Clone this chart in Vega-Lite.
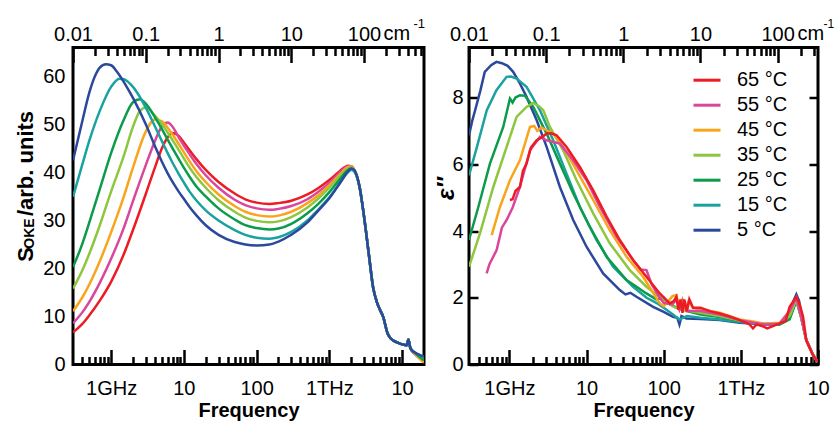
{
"$schema":"https://vega.github.io/schema/vega-lite/v6.json",
"background":"white",
"padding":{"left":12,"top":15.5,"right":0,"bottom":0},
"config":{
 "font":"Liberation Sans",
 "view":{"stroke":"#000","strokeWidth":3},
 "axis":{"domain":false,"grid":false,"labelFont":"Liberation Sans","labelFontSize":20,"labelColor":"#000","tickColor":"#000","tickWidth":2.5,"titleFont":"Liberation Sans","titleColor":"#000","titleFontWeight":"bold","labelOverlap":false,"labelFlush":false,"labelBound":false},
 "legend":{"labelFont":"Liberation Sans","labelColor":"#000"}
},
"datasets":{
"oke":[
{"s":"65 °C","f":0.3,"v":6.7},{"s":"65 °C","f":0.4,"v":8.4},{"s":"65 °C","f":0.5,"v":10.2},{"s":"65 °C","f":0.7,"v":13.3},{"s":"65 °C","f":1,"v":17.2},{"s":"65 °C","f":1.5,"v":23},{"s":"65 °C","f":2,"v":28},{"s":"65 °C","f":3,"v":35.5},{"s":"65 °C","f":4,"v":41},{"s":"65 °C","f":5,"v":45},{"s":"65 °C","f":6,"v":47.3},{"s":"65 °C","f":7,"v":48.2},{"s":"65 °C","f":8.5,"v":47.6},{"s":"65 °C","f":10,"v":46.2},{"s":"65 °C","f":12,"v":44.6},{"s":"65 °C","f":15,"v":42.7},{"s":"65 °C","f":20,"v":40.5},{"s":"65 °C","f":30,"v":38},{"s":"65 °C","f":50,"v":35.6},{"s":"65 °C","f":70,"v":34.4},{"s":"65 °C","f":100,"v":33.7},{"s":"65 °C","f":150,"v":33.4},{"s":"65 °C","f":200,"v":33.6},{"s":"65 °C","f":300,"v":34.1},{"s":"65 °C","f":500,"v":35.4},{"s":"65 °C","f":700,"v":36.7},{"s":"65 °C","f":1000,"v":38.4},{"s":"65 °C","f":1400,"v":40.3},{"s":"65 °C","f":1800,"v":41.4},{"s":"65 °C","f":2000,"v":41.3},{"s":"65 °C","f":2200,"v":40.5},{"s":"65 °C","f":2600,"v":37},{"s":"65 °C","f":3000,"v":30.8},{"s":"65 °C","f":3500,"v":22.8},{"s":"65 °C","f":4000,"v":16},{"s":"65 °C","f":4500,"v":13},{"s":"65 °C","f":5000,"v":11.3},{"s":"65 °C","f":5500,"v":9.9},{"s":"65 °C","f":6300,"v":6.5},{"s":"65 °C","f":7000,"v":5.4},{"s":"65 °C","f":8500,"v":4.6},{"s":"65 °C","f":10000,"v":4.2},{"s":"65 °C","f":11500,"v":4},{"s":"65 °C","f":12200,"v":5.2},{"s":"65 °C","f":13000,"v":3.4},{"s":"65 °C","f":15000,"v":2.2},{"s":"65 °C","f":18000,"v":1.1},{"s":"65 °C","f":20000,"v":0.5},
{"s":"55 °C","f":0.3,"v":8.6},{"s":"55 °C","f":0.4,"v":10.8},{"s":"55 °C","f":0.5,"v":13},{"s":"55 °C","f":0.7,"v":17},{"s":"55 °C","f":1,"v":22},{"s":"55 °C","f":1.5,"v":28.5},{"s":"55 °C","f":2,"v":34},{"s":"55 °C","f":3,"v":41.5},{"s":"55 °C","f":4,"v":46.5},{"s":"55 °C","f":5,"v":49.6},{"s":"55 °C","f":6,"v":50.4},{"s":"55 °C","f":7,"v":49.5},{"s":"55 °C","f":8.5,"v":47.3},{"s":"55 °C","f":10,"v":45.6},{"s":"55 °C","f":12,"v":43.8},{"s":"55 °C","f":15,"v":41.7},{"s":"55 °C","f":20,"v":39.4},{"s":"55 °C","f":30,"v":36.8},{"s":"55 °C","f":50,"v":34.3},{"s":"55 °C","f":70,"v":33.2},{"s":"55 °C","f":100,"v":32.5},{"s":"55 °C","f":150,"v":32.2},{"s":"55 °C","f":200,"v":32.4},{"s":"55 °C","f":300,"v":33},{"s":"55 °C","f":500,"v":34.4},{"s":"55 °C","f":700,"v":35.9},{"s":"55 °C","f":1000,"v":37.8},{"s":"55 °C","f":1400,"v":40},{"s":"55 °C","f":1800,"v":41.3},{"s":"55 °C","f":2000,"v":41.3},{"s":"55 °C","f":2200,"v":40.5},{"s":"55 °C","f":2600,"v":37},{"s":"55 °C","f":3000,"v":30.8},{"s":"55 °C","f":3500,"v":22.8},{"s":"55 °C","f":4000,"v":16},{"s":"55 °C","f":4500,"v":13},{"s":"55 °C","f":5000,"v":11.3},{"s":"55 °C","f":5500,"v":9.9},{"s":"55 °C","f":6300,"v":6.5},{"s":"55 °C","f":7000,"v":5.4},{"s":"55 °C","f":8500,"v":4.6},{"s":"55 °C","f":10000,"v":4.2},{"s":"55 °C","f":11500,"v":4},{"s":"55 °C","f":12200,"v":5.2},{"s":"55 °C","f":13000,"v":3.4},{"s":"55 °C","f":15000,"v":2.2},{"s":"55 °C","f":18000,"v":1.1},{"s":"55 °C","f":20000,"v":0.5},
{"s":"45 °C","f":0.3,"v":11.1},{"s":"45 °C","f":0.4,"v":13.9},{"s":"45 °C","f":0.5,"v":16.6},{"s":"45 °C","f":0.7,"v":21.5},{"s":"45 °C","f":1,"v":27.5},{"s":"45 °C","f":1.5,"v":35},{"s":"45 °C","f":2,"v":41},{"s":"45 °C","f":3,"v":48.5},{"s":"45 °C","f":4,"v":51},{"s":"45 °C","f":5,"v":50.6},{"s":"45 °C","f":6,"v":49.3},{"s":"45 °C","f":7,"v":47.9},{"s":"45 °C","f":8.5,"v":45.9},{"s":"45 °C","f":10,"v":44.2},{"s":"45 °C","f":12,"v":42.3},{"s":"45 °C","f":15,"v":40.2},{"s":"45 °C","f":20,"v":38},{"s":"45 °C","f":30,"v":35.4},{"s":"45 °C","f":50,"v":33},{"s":"45 °C","f":70,"v":31.8},{"s":"45 °C","f":100,"v":31.1},{"s":"45 °C","f":150,"v":30.8},{"s":"45 °C","f":200,"v":31},{"s":"45 °C","f":300,"v":31.8},{"s":"45 °C","f":500,"v":33.6},{"s":"45 °C","f":700,"v":35.2},{"s":"45 °C","f":1000,"v":37.3},{"s":"45 °C","f":1400,"v":39.6},{"s":"45 °C","f":1800,"v":41.1},{"s":"45 °C","f":2000,"v":41.2},{"s":"45 °C","f":2200,"v":40.5},{"s":"45 °C","f":2600,"v":37},{"s":"45 °C","f":3000,"v":30.8},{"s":"45 °C","f":3500,"v":22.8},{"s":"45 °C","f":4000,"v":16},{"s":"45 °C","f":4500,"v":13},{"s":"45 °C","f":5000,"v":11.3},{"s":"45 °C","f":5500,"v":9.9},{"s":"45 °C","f":6300,"v":6.5},{"s":"45 °C","f":7000,"v":5.4},{"s":"45 °C","f":8500,"v":4.6},{"s":"45 °C","f":10000,"v":4.2},{"s":"45 °C","f":11500,"v":4},{"s":"45 °C","f":12200,"v":5.2},{"s":"45 °C","f":13000,"v":3.4},{"s":"45 °C","f":15000,"v":2.2},{"s":"45 °C","f":18000,"v":1},{"s":"45 °C","f":20000,"v":0.4},
{"s":"35 °C","f":0.3,"v":15.8},{"s":"35 °C","f":0.4,"v":19.5},{"s":"35 °C","f":0.5,"v":23},{"s":"35 °C","f":0.7,"v":29},{"s":"35 °C","f":1,"v":36},{"s":"35 °C","f":1.5,"v":43.5},{"s":"35 °C","f":2,"v":49.5},{"s":"35 °C","f":2.5,"v":52.8},{"s":"35 °C","f":3,"v":53.5},{"s":"35 °C","f":4,"v":51.8},{"s":"35 °C","f":5,"v":50},{"s":"35 °C","f":6,"v":48.3},{"s":"35 °C","f":7,"v":46.7},{"s":"35 °C","f":8.5,"v":44.7},{"s":"35 °C","f":10,"v":42.9},{"s":"35 °C","f":12,"v":41},{"s":"35 °C","f":15,"v":39},{"s":"35 °C","f":20,"v":36.8},{"s":"35 °C","f":30,"v":34.2},{"s":"35 °C","f":50,"v":31.8},{"s":"35 °C","f":70,"v":30.6},{"s":"35 °C","f":100,"v":29.9},{"s":"35 °C","f":150,"v":29.6},{"s":"35 °C","f":200,"v":29.8},{"s":"35 °C","f":300,"v":30.7},{"s":"35 °C","f":500,"v":32.7},{"s":"35 °C","f":700,"v":34.5},{"s":"35 °C","f":1000,"v":36.8},{"s":"35 °C","f":1400,"v":39.2},{"s":"35 °C","f":1800,"v":40.8},{"s":"35 °C","f":2000,"v":41},{"s":"35 °C","f":2200,"v":40.4},{"s":"35 °C","f":2600,"v":37},{"s":"35 °C","f":3000,"v":30.8},{"s":"35 °C","f":3500,"v":22.8},{"s":"35 °C","f":4000,"v":16},{"s":"35 °C","f":4500,"v":13},{"s":"35 °C","f":5000,"v":11.3},{"s":"35 °C","f":5500,"v":9.9},{"s":"35 °C","f":6300,"v":6.5},{"s":"35 °C","f":7000,"v":5.4},{"s":"35 °C","f":8500,"v":4.6},{"s":"35 °C","f":10000,"v":4.2},{"s":"35 °C","f":11500,"v":4},{"s":"35 °C","f":12200,"v":5.2},{"s":"35 °C","f":13000,"v":3.4},{"s":"35 °C","f":15000,"v":2.4},{"s":"35 °C","f":18000,"v":1.4},{"s":"35 °C","f":20000,"v":0.9},
{"s":"25 °C","f":0.3,"v":20.3},{"s":"25 °C","f":0.4,"v":25},{"s":"25 °C","f":0.5,"v":29.5},{"s":"25 °C","f":0.7,"v":36.5},{"s":"25 °C","f":1,"v":44},{"s":"25 °C","f":1.5,"v":51},{"s":"25 °C","f":2,"v":54.6},{"s":"25 °C","f":2.5,"v":55.2},{"s":"25 °C","f":3,"v":54.3},{"s":"25 °C","f":4,"v":51.5},{"s":"25 °C","f":5,"v":49},{"s":"25 °C","f":6,"v":46.8},{"s":"25 °C","f":7,"v":45},{"s":"25 °C","f":8.5,"v":42.8},{"s":"25 °C","f":10,"v":41},{"s":"25 °C","f":12,"v":39.1},{"s":"25 °C","f":15,"v":37},{"s":"25 °C","f":20,"v":35},{"s":"25 °C","f":30,"v":32.5},{"s":"25 °C","f":50,"v":30.2},{"s":"25 °C","f":70,"v":29},{"s":"25 °C","f":100,"v":28.4},{"s":"25 °C","f":150,"v":28.1},{"s":"25 °C","f":200,"v":28.3},{"s":"25 °C","f":300,"v":29.3},{"s":"25 °C","f":500,"v":31.5},{"s":"25 °C","f":700,"v":33.4},{"s":"25 °C","f":1000,"v":35.9},{"s":"25 °C","f":1400,"v":38.6},{"s":"25 °C","f":1800,"v":40.5},{"s":"25 °C","f":2000,"v":40.8},{"s":"25 °C","f":2200,"v":40.3},{"s":"25 °C","f":2600,"v":37},{"s":"25 °C","f":3000,"v":30.8},{"s":"25 °C","f":3500,"v":22.8},{"s":"25 °C","f":4000,"v":16},{"s":"25 °C","f":4500,"v":13},{"s":"25 °C","f":5000,"v":11.3},{"s":"25 °C","f":5500,"v":9.9},{"s":"25 °C","f":6300,"v":6.5},{"s":"25 °C","f":7000,"v":5.4},{"s":"25 °C","f":8500,"v":4.6},{"s":"25 °C","f":10000,"v":4.2},{"s":"25 °C","f":11500,"v":4},{"s":"25 °C","f":12200,"v":5.2},{"s":"25 °C","f":13000,"v":3.4},{"s":"25 °C","f":15000,"v":2.4},{"s":"25 °C","f":18000,"v":1.4},{"s":"25 °C","f":20000,"v":0.9},
{"s":"15 °C","f":0.3,"v":34.9},{"s":"15 °C","f":0.4,"v":41.5},{"s":"15 °C","f":0.5,"v":46.5},{"s":"15 °C","f":0.7,"v":52.8},{"s":"15 °C","f":1,"v":57.8},{"s":"15 °C","f":1.3,"v":59.5},{"s":"15 °C","f":1.5,"v":59.4},{"s":"15 °C","f":2,"v":57.8},{"s":"15 °C","f":3,"v":53.5},{"s":"15 °C","f":4,"v":49.6},{"s":"15 °C","f":5,"v":46.5},{"s":"15 °C","f":6,"v":44},{"s":"15 °C","f":7,"v":42},{"s":"15 °C","f":8.5,"v":39.7},{"s":"15 °C","f":10,"v":37.9},{"s":"15 °C","f":12,"v":36},{"s":"15 °C","f":15,"v":34.1},{"s":"15 °C","f":20,"v":32.1},{"s":"15 °C","f":30,"v":30},{"s":"15 °C","f":50,"v":28},{"s":"15 °C","f":70,"v":27},{"s":"15 °C","f":100,"v":26.4},{"s":"15 °C","f":150,"v":26.2},{"s":"15 °C","f":200,"v":26.5},{"s":"15 °C","f":300,"v":27.6},{"s":"15 °C","f":500,"v":30},{"s":"15 °C","f":700,"v":32.2},{"s":"15 °C","f":1000,"v":34.8},{"s":"15 °C","f":1400,"v":37.8},{"s":"15 °C","f":1800,"v":40},{"s":"15 °C","f":2000,"v":40.5},{"s":"15 °C","f":2200,"v":40.2},{"s":"15 °C","f":2600,"v":37},{"s":"15 °C","f":3000,"v":30.8},{"s":"15 °C","f":3500,"v":22.8},{"s":"15 °C","f":4000,"v":16},{"s":"15 °C","f":4500,"v":13},{"s":"15 °C","f":5000,"v":11.3},{"s":"15 °C","f":5500,"v":9.9},{"s":"15 °C","f":6300,"v":6.5},{"s":"15 °C","f":7000,"v":5.4},{"s":"15 °C","f":8500,"v":4.6},{"s":"15 °C","f":10000,"v":4.2},{"s":"15 °C","f":11500,"v":4},{"s":"15 °C","f":12200,"v":5.2},{"s":"15 °C","f":13000,"v":3.4},{"s":"15 °C","f":15000,"v":2.5},{"s":"15 °C","f":18000,"v":1.8},{"s":"15 °C","f":20000,"v":1.5},
{"s":"5 °C","f":0.3,"v":42.5},{"s":"5 °C","f":0.4,"v":50.5},{"s":"5 °C","f":0.5,"v":56.5},{"s":"5 °C","f":0.6,"v":60},{"s":"5 °C","f":0.7,"v":61.8},{"s":"5 °C","f":0.85,"v":62.5},{"s":"5 °C","f":1,"v":62.3},{"s":"5 °C","f":1.2,"v":61},{"s":"5 °C","f":1.5,"v":58.8},{"s":"5 °C","f":2,"v":55.5},{"s":"5 °C","f":3,"v":50},{"s":"5 °C","f":4,"v":45.5},{"s":"5 °C","f":5,"v":42.2},{"s":"5 °C","f":6,"v":39.8},{"s":"5 °C","f":7,"v":38},{"s":"5 °C","f":8.5,"v":36},{"s":"5 °C","f":10,"v":34.5},{"s":"5 °C","f":12,"v":32.8},{"s":"5 °C","f":15,"v":31},{"s":"5 °C","f":20,"v":29},{"s":"5 °C","f":30,"v":27},{"s":"5 °C","f":50,"v":25.5},{"s":"5 °C","f":70,"v":25},{"s":"5 °C","f":100,"v":24.8},{"s":"5 °C","f":150,"v":25},{"s":"5 °C","f":200,"v":25.6},{"s":"5 °C","f":300,"v":27},{"s":"5 °C","f":500,"v":29.6},{"s":"5 °C","f":700,"v":32},{"s":"5 °C","f":1000,"v":34.6},{"s":"5 °C","f":1400,"v":37.8},{"s":"5 °C","f":1800,"v":40.2},{"s":"5 °C","f":2000,"v":40.8},{"s":"5 °C","f":2200,"v":40.5},{"s":"5 °C","f":2600,"v":37},{"s":"5 °C","f":3000,"v":30.8},{"s":"5 °C","f":3500,"v":22.8},{"s":"5 °C","f":4000,"v":16},{"s":"5 °C","f":4500,"v":13},{"s":"5 °C","f":5000,"v":11.3},{"s":"5 °C","f":5500,"v":9.9},{"s":"5 °C","f":6300,"v":6.5},{"s":"5 °C","f":7000,"v":5.4},{"s":"5 °C","f":8500,"v":4.6},{"s":"5 °C","f":10000,"v":4.2},{"s":"5 °C","f":11500,"v":4},{"s":"5 °C","f":12200,"v":5.2},{"s":"5 °C","f":13000,"v":3.4},{"s":"5 °C","f":15000,"v":2.5},{"s":"5 °C","f":18000,"v":1.9},{"s":"5 °C","f":20000,"v":1.7}
],
"eps":[
{"s":"5 °C","f":0.3,"v":6.87},{"s":"5 °C","f":0.33,"v":7.3},{"s":"5 °C","f":0.36,"v":7.62},{"s":"5 °C","f":0.42,"v":8.2},{"s":"5 °C","f":0.48,"v":8.77},{"s":"5 °C","f":0.58,"v":8.97},{"s":"5 °C","f":0.68,"v":9.07},{"s":"5 °C","f":0.8,"v":9.03},{"s":"5 °C","f":0.95,"v":8.95},{"s":"5 °C","f":1.12,"v":8.77},{"s":"5 °C","f":1.35,"v":8.45},{"s":"5 °C","f":1.67,"v":8.02},{"s":"5 °C","f":2.26,"v":7.32},{"s":"5 °C","f":3.04,"v":6.52},{"s":"5 °C","f":4.52,"v":5.32},{"s":"5 °C","f":6.72,"v":4.33},{"s":"5 °C","f":10,"v":3.53},{"s":"5 °C","f":16.4,"v":2.73},{"s":"5 °C","f":27,"v":2.23},{"s":"5 °C","f":32,"v":2.1},{"s":"5 °C","f":37,"v":2.15},{"s":"5 °C","f":44.4,"v":2.03},{"s":"5 °C","f":73,"v":1.73},{"s":"5 °C","f":100,"v":1.58},{"s":"5 °C","f":132,"v":1.43},{"s":"5 °C","f":150,"v":1.4},{"s":"5 °C","f":160,"v":1.2},{"s":"5 °C","f":170,"v":1.45},{"s":"5 °C","f":197,"v":1.38},{"s":"5 °C","f":300,"v":1.36},{"s":"5 °C","f":532,"v":1.33},{"s":"5 °C","f":966,"v":1.25},{"s":"5 °C","f":1500,"v":1.22},{"s":"5 °C","f":2000,"v":1.2},{"s":"5 °C","f":3184,"v":1.22},{"s":"5 °C","f":3800,"v":1.3},{"s":"5 °C","f":4290,"v":1.55},{"s":"5 °C","f":4800,"v":1.9},{"s":"5 °C","f":5240,"v":2.1},{"s":"5 °C","f":5700,"v":1.9},{"s":"5 °C","f":6080,"v":1.4},{"s":"5 °C","f":7050,"v":0.73},{"s":"5 °C","f":8500,"v":0.32},{"s":"5 °C","f":9500,"v":0.13},{"s":"5 °C","f":10000,"v":0.1},
{"s":"15 °C","f":0.3,"v":5.67},{"s":"15 °C","f":0.38,"v":6.52},{"s":"15 °C","f":0.51,"v":7.62},{"s":"15 °C","f":0.68,"v":8.22},{"s":"15 °C","f":0.92,"v":8.62},{"s":"15 °C","f":1.05,"v":8.63},{"s":"15 °C","f":1.24,"v":8.57},{"s":"15 °C","f":1.67,"v":8.32},{"s":"15 °C","f":2.49,"v":7.62},{"s":"15 °C","f":3.7,"v":6.72},{"s":"15 °C","f":5.51,"v":5.72},{"s":"15 °C","f":8.2,"v":4.72},{"s":"15 °C","f":13.5,"v":3.73},{"s":"15 °C","f":22.1,"v":2.93},{"s":"15 °C","f":40.1,"v":2.33},{"s":"15 °C","f":60,"v":2},{"s":"15 °C","f":80,"v":1.85},{"s":"15 °C","f":100,"v":1.7},{"s":"15 °C","f":132,"v":1.5},{"s":"15 °C","f":160,"v":1.35},{"s":"15 °C","f":200,"v":1.45},{"s":"15 °C","f":300,"v":1.4},{"s":"15 °C","f":532,"v":1.35},{"s":"15 °C","f":966,"v":1.27},{"s":"15 °C","f":2000,"v":1.2},{"s":"15 °C","f":3184,"v":1.2},{"s":"15 °C","f":4290,"v":1.4},{"s":"15 °C","f":5240,"v":1.95},{"s":"15 °C","f":6080,"v":1.4},{"s":"15 °C","f":7050,"v":0.73},{"s":"15 °C","f":8500,"v":0.32},{"s":"15 °C","f":9500,"v":0.13},{"s":"15 °C","f":10000,"v":0.1},
{"s":"25 °C","f":0.3,"v":3.73},{"s":"25 °C","f":0.396,"v":4.72},{"s":"25 °C","f":0.56,"v":6.02},{"s":"25 °C","f":0.833,"v":7.12},{"s":"25 °C","f":1.017,"v":7.97},{"s":"25 °C","f":1.1,"v":7.85},{"s":"25 °C","f":1.2,"v":8},{"s":"25 °C","f":1.37,"v":8.07},{"s":"25 °C","f":1.6,"v":8.05},{"s":"25 °C","f":2.04,"v":7.72},{"s":"25 °C","f":3.04,"v":6.92},{"s":"25 °C","f":4.52,"v":6.02},{"s":"25 °C","f":6.71,"v":5.13},{"s":"25 °C","f":11,"v":4.13},{"s":"25 °C","f":18.2,"v":3.23},{"s":"25 °C","f":33,"v":2.53},{"s":"25 °C","f":59.8,"v":2.13},{"s":"25 °C","f":80,"v":1.95},{"s":"25 °C","f":100,"v":2},{"s":"25 °C","f":110,"v":1.85},{"s":"25 °C","f":150,"v":1.7},{"s":"25 °C","f":200,"v":1.6},{"s":"25 °C","f":300,"v":1.5},{"s":"25 °C","f":532,"v":1.42},{"s":"25 °C","f":966,"v":1.3},{"s":"25 °C","f":2000,"v":1.22},{"s":"25 °C","f":3184,"v":1.2},{"s":"25 °C","f":4290,"v":1.35},{"s":"25 °C","f":5240,"v":1.9},{"s":"25 °C","f":6080,"v":1.4},{"s":"25 °C","f":7050,"v":0.73},{"s":"25 °C","f":8500,"v":0.32},{"s":"25 °C","f":9500,"v":0.13},{"s":"25 °C","f":10000,"v":0.1},
{"s":"35 °C","f":0.3,"v":2.93},{"s":"35 °C","f":0.416,"v":3.93},{"s":"35 °C","f":0.619,"v":5.32},{"s":"35 °C","f":0.922,"v":6.52},{"s":"35 °C","f":1.24,"v":7.42},{"s":"35 °C","f":1.67,"v":7.72},{"s":"35 °C","f":2.04,"v":7.84},{"s":"35 °C","f":2.4,"v":7.75},{"s":"35 °C","f":2.75,"v":7.62},{"s":"35 °C","f":3.35,"v":7.12},{"s":"35 °C","f":4.98,"v":6.42},{"s":"35 °C","f":7.43,"v":5.52},{"s":"35 °C","f":12.2,"v":4.53},{"s":"35 °C","f":20,"v":3.63},{"s":"35 °C","f":36.4,"v":2.83},{"s":"35 °C","f":59.8,"v":2.33},{"s":"35 °C","f":80,"v":2.1},{"s":"35 °C","f":100,"v":1.95},{"s":"35 °C","f":130,"v":1.75},{"s":"35 °C","f":160,"v":1.65},{"s":"35 °C","f":200,"v":1.62},{"s":"35 °C","f":300,"v":1.55},{"s":"35 °C","f":532,"v":1.45},{"s":"35 °C","f":966,"v":1.32},{"s":"35 °C","f":2000,"v":1.22},{"s":"35 °C","f":3184,"v":1.22},{"s":"35 °C","f":4290,"v":1.45},{"s":"35 °C","f":5240,"v":1.95},{"s":"35 °C","f":6080,"v":1.4},{"s":"35 °C","f":7050,"v":0.73},{"s":"35 °C","f":8500,"v":0.32},{"s":"35 °C","f":9500,"v":0.13},{"s":"35 °C","f":10000,"v":0.1},
{"s":"45 °C","f":0.59,"v":3.88},{"s":"45 °C","f":0.755,"v":4.72},{"s":"45 °C","f":1.017,"v":5.52},{"s":"45 °C","f":1.37,"v":6.12},{"s":"45 °C","f":1.85,"v":7.12},{"s":"45 °C","f":2.1,"v":7.15},{"s":"45 °C","f":2.3,"v":7},{"s":"45 °C","f":2.6,"v":7.1},{"s":"45 °C","f":3.04,"v":7.02},{"s":"45 °C","f":3.7,"v":6.92},{"s":"45 °C","f":4.98,"v":6.52},{"s":"45 °C","f":7.43,"v":5.82},{"s":"45 °C","f":12.2,"v":4.93},{"s":"45 °C","f":20,"v":4.03},{"s":"45 °C","f":33,"v":3.23},{"s":"45 °C","f":54.1,"v":2.63},{"s":"45 °C","f":75,"v":2.1},{"s":"45 °C","f":88.9,"v":1.83},{"s":"45 °C","f":100,"v":1.75},{"s":"45 °C","f":115,"v":1.9},{"s":"45 °C","f":130,"v":2.05},{"s":"45 °C","f":146,"v":2.08},{"s":"45 °C","f":160,"v":1.75},{"s":"45 °C","f":175,"v":1.95},{"s":"45 °C","f":190,"v":1.65},{"s":"45 °C","f":210,"v":1.9},{"s":"45 °C","f":240,"v":1.7},{"s":"45 °C","f":300,"v":1.65},{"s":"45 °C","f":532,"v":1.55},{"s":"45 °C","f":966,"v":1.35},{"s":"45 °C","f":1500,"v":1.28},{"s":"45 °C","f":2000,"v":1.22},{"s":"45 °C","f":3184,"v":1.25},{"s":"45 °C","f":4290,"v":1.6},{"s":"45 °C","f":5240,"v":2},{"s":"45 °C","f":6080,"v":1.4},{"s":"45 °C","f":7050,"v":0.73},{"s":"45 °C","f":8500,"v":0.32},{"s":"45 °C","f":9500,"v":0.13},{"s":"45 °C","f":10000,"v":0.1},
{"s":"55 °C","f":0.508,"v":2.73},{"s":"55 °C","f":0.55,"v":3},{"s":"55 °C","f":0.684,"v":3.43},{"s":"55 °C","f":0.8,"v":4.1},{"s":"55 °C","f":0.922,"v":4.33},{"s":"55 °C","f":1.1,"v":4.7},{"s":"55 °C","f":1.37,"v":5.32},{"s":"55 °C","f":1.85,"v":6.42},{"s":"55 °C","f":2.49,"v":6.82},{"s":"55 °C","f":3.04,"v":6.72},{"s":"55 °C","f":4.52,"v":6.62},{"s":"55 °C","f":6.71,"v":6.12},{"s":"55 °C","f":10,"v":5.52},{"s":"55 °C","f":14.9,"v":4.72},{"s":"55 °C","f":24.5,"v":3.83},{"s":"55 °C","f":40.1,"v":3.13},{"s":"55 °C","f":50,"v":2.85},{"s":"55 °C","f":59.8,"v":2.83},{"s":"55 °C","f":70,"v":2.4},{"s":"55 °C","f":88.9,"v":2},{"s":"55 °C","f":100,"v":1.85},{"s":"55 °C","f":130,"v":1.8},{"s":"55 °C","f":146,"v":1.95},{"s":"55 °C","f":160,"v":1.65},{"s":"55 °C","f":175,"v":1.9},{"s":"55 °C","f":200,"v":1.6},{"s":"55 °C","f":300,"v":1.6},{"s":"55 °C","f":532,"v":1.5},{"s":"55 °C","f":966,"v":1.33},{"s":"55 °C","f":2000,"v":1.2},{"s":"55 °C","f":3184,"v":1.22},{"s":"55 °C","f":4290,"v":1.6},{"s":"55 °C","f":5240,"v":2},{"s":"55 °C","f":6080,"v":1.4},{"s":"55 °C","f":7050,"v":0.73},{"s":"55 °C","f":8500,"v":0.32},{"s":"55 °C","f":9500,"v":0.13},{"s":"55 °C","f":10000,"v":0.1},
{"s":"65 °C","f":1.017,"v":4.93},{"s":"65 °C","f":1.1,"v":4.95},{"s":"65 °C","f":1.2,"v":5.2},{"s":"65 °C","f":1.37,"v":5.32},{"s":"65 °C","f":1.5,"v":5.8},{"s":"65 °C","f":1.67,"v":6.02},{"s":"65 °C","f":1.9,"v":6.5},{"s":"65 °C","f":2.26,"v":6.72},{"s":"65 °C","f":2.6,"v":6.8},{"s":"65 °C","f":3.04,"v":6.92},{"s":"65 °C","f":3.5,"v":6.93},{"s":"65 °C","f":4.09,"v":6.87},{"s":"65 °C","f":5.51,"v":6.52},{"s":"65 °C","f":8.2,"v":5.92},{"s":"65 °C","f":12.2,"v":5.22},{"s":"65 °C","f":18.2,"v":4.43},{"s":"65 °C","f":27,"v":3.73},{"s":"65 °C","f":40.1,"v":3.13},{"s":"65 °C","f":59.8,"v":2.63},{"s":"65 °C","f":88.9,"v":2.13},{"s":"65 °C","f":120,"v":1.83},{"s":"65 °C","f":135,"v":1.9},{"s":"65 °C","f":146,"v":2.03},{"s":"65 °C","f":155,"v":1.65},{"s":"65 °C","f":165,"v":1.95},{"s":"65 °C","f":175,"v":1.55},{"s":"65 °C","f":185,"v":1.95},{"s":"65 °C","f":200,"v":1.6},{"s":"65 °C","f":215,"v":1.95},{"s":"65 °C","f":240,"v":1.7},{"s":"65 °C","f":300,"v":1.7},{"s":"65 °C","f":400,"v":1.6},{"s":"65 °C","f":532,"v":1.53},{"s":"65 °C","f":700,"v":1.45},{"s":"65 °C","f":966,"v":1.33},{"s":"65 °C","f":1300,"v":1.2},{"s":"65 °C","f":1436,"v":1.08},{"s":"65 °C","f":1600,"v":1.2},{"s":"65 °C","f":1900,"v":1.15},{"s":"65 °C","f":2200,"v":1.08},{"s":"65 °C","f":2600,"v":1.15},{"s":"65 °C","f":3184,"v":1.23},{"s":"65 °C","f":3800,"v":1.3},{"s":"65 °C","f":4290,"v":1.73},{"s":"65 °C","f":5240,"v":2.03},{"s":"65 °C","f":5800,"v":1.8},{"s":"65 °C","f":6400,"v":1.43},{"s":"65 °C","f":7050,"v":0.73},{"s":"65 °C","f":8500,"v":0.3},{"s":"65 °C","f":9500,"v":0.13},{"s":"65 °C","f":10000,"v":0.1}
]
},
"bounds":"flush",
"spacing":45,
"resolve":{"legend":{"color":"independent"}},
"hconcat":[
{
"width":351,"height":317,
"layer":[
 {"data":{"name":"oke"},
  "mark":{"type":"line","strokeWidth":2.5,"interpolate":"monotone","clip":true},
  "encoding":{
   "x":{"field":"f","type":"quantitative","scale":{"type":"log","domain":[0.299792458,20000],"nice":false},
    "axis":{"orient":"bottom","values":[0.4,0.5,0.6,0.7,0.8,0.9,1,2,3,4,5,6,7,8,9,10,20,30,40,50,60,70,80,90,100,200,300,400,500,600,700,800,900,1000,2000,3000,4000,5000,6000,7000,8000,9000,10000],
     "labelExpr":"datum.value == 1 ? '1GHz' : datum.value == 10 ? '10' : datum.value == 100 ? '100' : datum.value == 1000 ? '1THz' : datum.value == 10000 ? '10' : ''",
     "labelPadding":28.5,
     "tickSize":{"condition":{"test":"abs(log(datum.value)/LN10 - round(log(datum.value)/LN10)) < 0.001","value":-15},"value":-8},
     "title":"Frequency","titleFontSize":20,"titleY":36,"titleBaseline":"top"}},
   "y":{"field":"v","type":"quantitative","scale":{"domain":[0,66],"nice":false,"zero":false},
    "axis":{"orient":"left","values":[0,10,20,30,40,50,60],"ticks":false,"tickSize":0,"labelPadding":8,"title":"S","titleFontSize":22,"titleX":-41,"titleY":206.5,"titleAngle":270,"titleAlign":"center","titleBaseline":"alphabetic"}},
   "color":{"field":"s","type":"nominal","scale":{"domain":["65 °C","55 °C","45 °C","35 °C","25 °C","15 °C","5 °C"],"range":["#ed1c24","#d9469c","#f9a51b","#8dc63f","#0c9b4a","#19a2a0","#2b489d"]},"legend":null}
  }},
 {"data":{"name":"oke"},"transform":[{"filter":"false"}],
  "mark":{"type":"line"},
  "encoding":{
   "x":{"field":"f","type":"quantitative","scale":{"type":"log","domain":[0.299792458,20000],"nice":false},
    "axis":{"orient":"top","values":[0.299792458,0.599584916,0.899377374,1.199169832,1.49896229,1.798754748,2.098547206,2.398339664,2.698132122,2.99792458,5.99584916,8.99377374,11.99169832,14.9896229,17.98754748,20.98547206,23.98339664,26.98132122,29.9792458,59.9584916,89.9377374,119.9169832,149.896229,179.8754748,209.8547206,239.8339664,269.8132122,299.792458,599.584916,899.377374,1199.169832,1498.96229,1798.754748,2098.547206,2398.339664,2698.132122,2997.92458,5995.84916,8993.77374,11991.69832,14989.6229,17987.54748],
     "labelExpr":"abs(log(datum.value/29.9792458)/LN10 - round(log(datum.value/29.9792458)/LN10)) < 0.001 ? format(datum.value/29.9792458, '~g') : ''",
     "labelPadding":18.5,
     "tickSize":{"condition":{"test":"abs(log(datum.value/29.9792458)/LN10 - round(log(datum.value/29.9792458)/LN10)) < 0.001","value":-15},"value":-8},
     "title":"cm","titleFontSize":20,"titleFontWeight":"normal","titleX":310,"titleY":-7.7,"titleAlign":"left","titleBaseline":"alphabetic","titleAngle":0}},
   "y":{"field":"v","type":"quantitative","scale":{"domain":[0,66],"nice":false,"zero":false},
    "axis":{"orient":"left","labels":false,"ticks":false,"domain":false,"title":"OKE","titleFontSize":14,"titleX":-39.5,"titleY":185.5,"titleAngle":270,"titleAlign":"center","titleBaseline":"alphabetic"}}
  }},
 {"data":{"name":"oke"},"transform":[{"filter":"false"}],
  "mark":{"type":"line"},
  "encoding":{
   "x":{"field":"f","type":"quantitative","scale":{"type":"log","domain":[0.299792458,20000],"nice":false},
    "axis":{"orient":"top","labels":false,"ticks":false,"domain":false,"title":"-1","titleFontSize":13,"titleFontWeight":"normal","titleX":340,"titleY":-20,"titleAlign":"left","titleBaseline":"alphabetic","titleAngle":0}},
   "y":{"field":"v","type":"quantitative","scale":{"domain":[0,66],"nice":false,"zero":false},
    "axis":{"orient":"left","labels":false,"ticks":false,"domain":false,"title":"/arb. units","titleFontSize":22,"titleX":-41,"titleY":115.5,"titleAngle":270,"titleAlign":"center","titleBaseline":"alphabetic"}}
  }}
],
"resolve":{"axis":{"x":"independent","y":"independent"}}
},
{
"width":349,"height":317,
"layer":[
 {"data":{"name":"eps"},
  "mark":{"type":"line","strokeWidth":2.5,"clip":true},
  "encoding":{
   "x":{"field":"f","type":"quantitative","scale":{"type":"log","domain":[0.299792458,10000],"nice":false},
    "axis":{"orient":"bottom","values":[0.4,0.5,0.6,0.7,0.8,0.9,1,2,3,4,5,6,7,8,9,10,20,30,40,50,60,70,80,90,100,200,300,400,500,600,700,800,900,1000,2000,3000,4000,5000,6000,7000,8000,9000,10000],
     "labelExpr":"datum.value == 1 ? '1GHz' : datum.value == 10 ? '10' : datum.value == 100 ? '100' : datum.value == 1000 ? '1THz' : datum.value == 10000 ? '10' : ''",
     "labelPadding":28.5,
     "tickSize":{"condition":{"test":"abs(log(datum.value)/LN10 - round(log(datum.value)/LN10)) < 0.001","value":-15},"value":-8},
     "title":"Frequency","titleFontSize":20,"titleY":36,"titleBaseline":"top"}},
   "y":{"field":"v","type":"quantitative","scale":{"domain":[0,9.5],"nice":false,"zero":false},
    "axis":{"orient":"left","values":[0,2,4,6,8],"tickSize":-9,"labelPadding":15,"title":"ε″","titleFontSize":24,"titleFontStyle":"italic","titleX":-16,"titleY":140.5,"titleAngle":270,"titleAlign":"center","titleBaseline":"alphabetic"}},
   "color":{"field":"s","type":"nominal","scale":{"domain":["65 °C","55 °C","45 °C","35 °C","25 °C","15 °C","5 °C"],"range":["#ed1c24","#d9469c","#f9a51b","#8dc63f","#0c9b4a","#19a2a0","#2b489d"]},
    "legend":{"title":null,"orient":"none","legendX":223,"legendY":17.7,"symbolType":"stroke","symbolSize":729,"symbolStrokeWidth":3,"labelFontSize":20,"labelOffset":15,"rowPadding":-1.8,"padding":0,"labelExpr":"datum.label == '5 °C' ? '\u2007\u20075 °C' : datum.label"}}
  }},
 {"data":{"name":"eps"},"transform":[{"filter":"false"}],
  "mark":{"type":"line"},
  "encoding":{
   "x":{"field":"f","type":"quantitative","scale":{"type":"log","domain":[0.299792458,10000],"nice":false},
    "axis":{"orient":"top","values":[0.299792458,0.599584916,0.899377374,1.199169832,1.49896229,1.798754748,2.098547206,2.398339664,2.698132122,2.99792458,5.99584916,8.99377374,11.99169832,14.9896229,17.98754748,20.98547206,23.98339664,26.98132122,29.9792458,59.9584916,89.9377374,119.9169832,149.896229,179.8754748,209.8547206,239.8339664,269.8132122,299.792458,599.584916,899.377374,1199.169832,1498.96229,1798.754748,2098.547206,2398.339664,2698.132122,2997.92458,5995.84916,8993.77374],
     "labelExpr":"abs(log(datum.value/29.9792458)/LN10 - round(log(datum.value/29.9792458)/LN10)) < 0.001 ? format(datum.value/29.9792458, '~g') : ''",
     "labelPadding":18.5,
     "tickSize":{"condition":{"test":"abs(log(datum.value/29.9792458)/LN10 - round(log(datum.value/29.9792458)/LN10)) < 0.001","value":-15},"value":-8},
     "title":"cm","titleFontSize":20,"titleFontWeight":"normal","titleX":328,"titleY":-7.7,"titleAlign":"left","titleBaseline":"alphabetic","titleAngle":0}},
   "y":{"field":"v","type":"quantitative","scale":{"domain":[0,9.5],"nice":false,"zero":false},
    "axis":{"orient":"right","values":[0,2,4,6,8],"labels":false,"tickSize":-9,"domain":false,"title":null}}
  }},
 {"data":{"name":"eps"},"transform":[{"filter":"false"}],
  "mark":{"type":"line"},
  "encoding":{
   "x":{"field":"f","type":"quantitative","scale":{"type":"log","domain":[0.299792458,10000],"nice":false},
    "axis":{"orient":"top","labels":false,"ticks":false,"domain":false,"title":"-1","titleFontSize":12,"titleFontWeight":"normal","titleX":354,"titleY":-20,"titleAlign":"left","titleBaseline":"alphabetic","titleAngle":0}},
   "y":{"field":"v","type":"quantitative","scale":{"domain":[0,9.5],"nice":false,"zero":false},"axis":null}
  }}
],
"resolve":{"axis":{"x":"independent","y":"independent"}}
}
]
}
